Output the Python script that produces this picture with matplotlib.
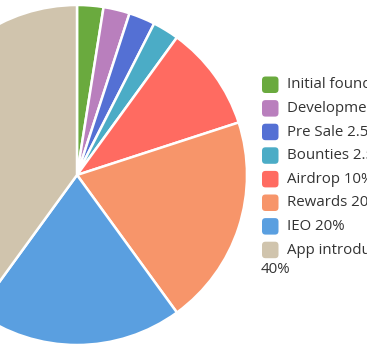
import matplotlib
matplotlib.use("Agg")
import matplotlib.pyplot as plt
from matplotlib.patches import FancyBboxPatch

labels = ["Initial founders 2.5%", "Development 2.5%", "Pre Sale 2.5%", "Bounties 2.5%",
          "Airdrop 10%", "Rewards 20%", "IEO 20%", "App introduction"]
label_tail = "40%"  # wrapped second line of the last label
shares = [2.5, 2.5, 2.5, 2.5, 10, 20, 20, 40]
colors = ["#6aaa3e", "#b97fbd", "#5470d4", "#4bacc6", "#ff6b61", "#f7956a", "#5a9fe0", "#d0c4ad"]

W, H = 367, 350
fig = plt.figure(figsize=(W / 100, H / 100), dpi=100)
ax = fig.add_axes([0, 0, 1, 1])

ax.pie(shares, colors=colors, startangle=90, counterclock=False,
       center=(77, H - 175), radius=170,
       wedgeprops=dict(edgecolor="white", linewidth=1.8))

ax.set_xlim(0, W)
ax.set_ylim(0, H)
ax.set_aspect("equal")
ax.axis("off")

# legend, drawn by hand in pixel space
y0, dy = 85, 23.6
for i, (lab, c) in enumerate(zip(labels, colors)):
    yc = H - (y0 + i * dy)
    ax.add_patch(FancyBboxPatch((262, yc - 8), 16.5, 16.5,
                                boxstyle="round,pad=0,rounding_size=3.5",
                                facecolor=c, edgecolor="none", clip_on=False))
    ax.text(287, yc, lab, ha="left", va="center", fontsize=10.8,
            family="Open Sans", color="#333333")
ax.text(261, H - (y0 + 7 * dy + 19.5), label_tail, ha="left", va="center",
        fontsize=10.8, family="Open Sans", color="#333333")

fig.savefig("out.png", dpi=100)
